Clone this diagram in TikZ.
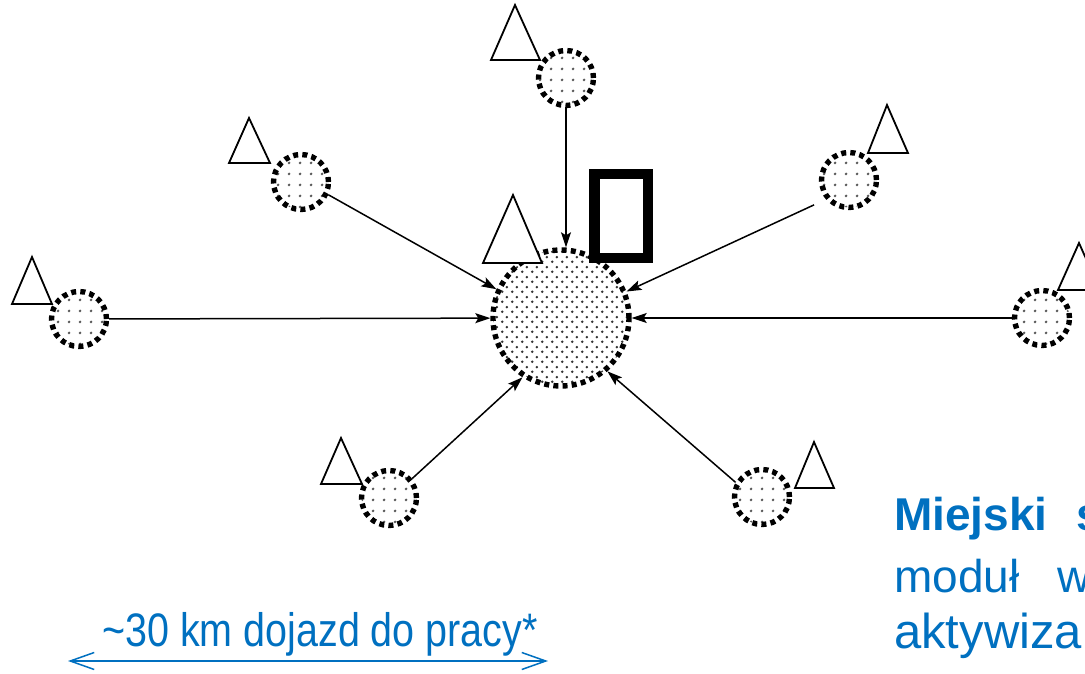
\documentclass[tikz,border=0pt]{standalone}
\usepackage{fontspec}
\setmainfont{Liberation Sans}
\newfontfamily\narrowsans{Liberation Sans}[FakeStretch=0.84]
\usetikzlibrary{arrows.meta,patterns.meta}
\definecolor{pptblue}{RGB}{0,112,192}
\tikzdeclarepattern{
  name=sparsedots,
  type=colored,
  bottom left={(0pt,0pt)},
  top right={(10.5pt,10.5pt)},
  tile size={(10.5pt,10.5pt)},
  code={\fill[black!65] (5.25pt,5.25pt) circle (1.5pt);}
}
\tikzdeclarepattern{
  name=densedots,
  type=colored,
  bottom left={(0pt,0pt)},
  top right={(10pt,10pt)},
  tile size={(10pt,10pt)},
  code={\fill[black!80] (2.5pt,2.5pt) circle (1.5pt);
        \fill[black!80] (7.5pt,7.5pt) circle (1.5pt);}
}
\begin{document}
\begin{tikzpicture}[x=1pt,y=-1pt,
  ring/.style={circle, draw=black, line width=5.4pt, dash pattern=on 5pt off 4.2pt,
               inner sep=0pt, outer sep=2.7pt},
  smallc/.style={ring, minimum size=55pt, pattern=sparsedots},
  bigc/.style={ring, minimum size=136pt, pattern=densedots},
  conn/.style={-{Stealth[length=15pt,width=10pt,inset=3pt]}, line width=1.5pt},
  tri/.style={draw=black, fill=white, line width=1.8pt, line join=miter},
  glyphbox/.style={draw=black, fill=white, line width=10.5pt, minimum width=53.5pt,
                   minimum height=83.5pt, inner sep=0pt},
  bluetext/.style={text=pptblue, inner sep=0pt},
  dimline/.style={{Straight Barb[length=24pt,width=17pt]}-{Straight Barb[length=24pt,width=17pt]},
                  draw=pptblue, line width=1.5pt}]
\useasboundingbox (0,0) rectangle (1085,674);
\clip (0,0) rectangle (1085,674);

% circles
\node[bigc]   (big) at (561,318) {};
\node[smallc] (t)   at (566,78)  {};
\node[smallc] (ul)  at (301,182) {};
\node[smallc] (ur)  at (849,180) {};
\node[smallc] (l)   at (79,319)  {};
\node[smallc] (r)   at (1042,318) {};
\node[smallc] (ll)  at (389,498) {};
\node[smallc] (lr)  at (762,497) {};

% triangles
\draw[tri] (491,60) -- (515,5) -- (540,60) -- cycle;
\draw[tri] (229,163) -- (249,118) -- (270,163) -- cycle;
\draw[tri] (12,304) -- (32,257) -- (52,304) -- cycle;
\draw[tri] (483,263) -- (513,195) -- (542,263) -- cycle;
\draw[tri] (868,153) -- (887,105) -- (908,153) -- cycle;
\draw[tri] (1058,290) -- (1079,243) -- (1100,290) -- cycle;
\draw[tri] (321,484) -- (341,438) -- (362,484) -- cycle;
\draw[tri] (795,488) -- (814,442) -- (834,488) -- cycle;

% missing-glyph box
\node[glyphbox] (box) at (621,216) {};

% connectors
\draw[conn] (t.south) -- (t.south |- big.north);
\draw[conn] (ul.-25) -- (big.156);
\draw[conn] (l) -- (big);
\draw[conn, shorten <=13pt] (ur.220) -- (big.22);
\draw[conn] (r) -- (big);
\draw[conn] (ll.40) -- (big.237);
\draw[conn] (lr.151) -- (big.311);

% distance label
\node[bluetext, anchor=base] (dist) at (320,646)
  {\fontsize{47}{50}\narrowsans \textasciitilde30 km dojazd do pracy*};
\coordinate (dl) at (68,661);
\coordinate (dr) at (548,661);
\draw[dimline] (dl) -- (dr);

% right text (cut at edge, as in the reference)
\node[bluetext, anchor=base west] (m1) at (894,530)
  {\fontsize{46}{50}\selectfont\bfseries Miejski\hspace{29pt}s};
\node[bluetext, anchor=base west] (m2) at (894,592)
  {\fontsize{46}{50}\selectfont modu\l{}\hspace{38pt}w};
\node[bluetext, anchor=base west] (m3) at (894,648)
  {\fontsize{49}{50}\selectfont aktywiza};
\end{tikzpicture}
\end{document}
